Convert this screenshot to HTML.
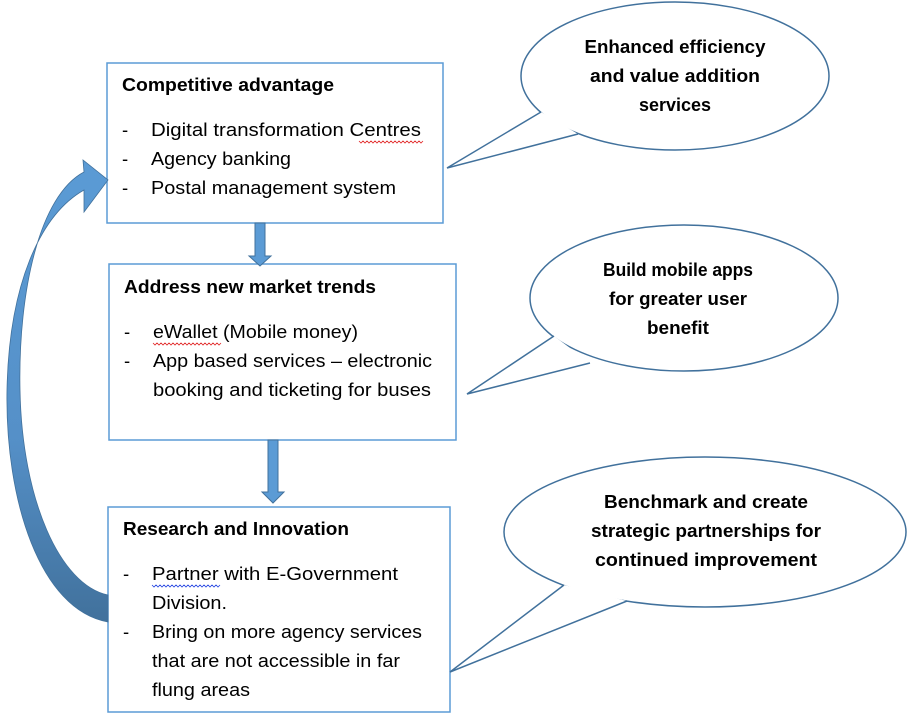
<!DOCTYPE html>
<html><head><meta charset="utf-8"><style>
html,body{margin:0;padding:0;background:#fff}
svg{display:block}
text{font-family:"Liberation Sans",Arial,sans-serif;fill:#000}
.t{font-size:18.5px}
.b{font-size:18px;font-weight:bold}
</style></head><body>
<svg width="909" height="713" viewBox="0 0 909 713" xmlns="http://www.w3.org/2000/svg">
<defs>
<linearGradient id="g" x1="0" y1="0" x2="0" y2="1">
<stop offset="0" stop-color="#5b9bd5"/><stop offset="0.6" stop-color="#5590c8"/><stop offset="1" stop-color="#41719c"/>
</linearGradient>
</defs>
<rect x="107" y="63" width="336" height="160" fill="#fff" stroke="#5b9bd5" stroke-width="1.5"/>
<rect x="109" y="264" width="347" height="176" fill="#fff" stroke="#5b9bd5" stroke-width="1.5"/>
<rect x="108" y="507" width="342" height="205" fill="#fff" stroke="#5b9bd5" stroke-width="1.5"/>

<polygon points="255,223 265,223 265,256 271,256 260,266 249,256 255,256" fill="#5b9bd5" stroke="#41719c" stroke-width="1"/>
<polygon points="268,440 278,440 278,492 284,492 273,503 262,492 268,492" fill="#5b9bd5" stroke="#41719c" stroke-width="1"/>

<path d="M108,622 C40,610 5,500 7,390 C9,285 40,215 84,190 L84,212 L108,180 L83,160 L84,172 C40,195 18,290 20,390 C22,500 60,585 108,595 Z" fill="url(#g)" stroke="#41719c" stroke-width="0.8"/>

<ellipse cx="675" cy="76" rx="154" ry="74" fill="#fff" stroke="#41719c" stroke-width="1.5"/>
<polygon points="541,112 447,168 578,134" fill="#fff"/>
<polyline points="541,112 447,168 578,134" fill="none" stroke="#41719c" stroke-width="1.5"/>
<ellipse cx="684" cy="298" rx="154" ry="73" fill="#fff" stroke="#41719c" stroke-width="1.5"/>
<polygon points="554,336 467,394 590,363" fill="#fff"/>
<polyline points="554,336 467,394 590,363" fill="none" stroke="#41719c" stroke-width="1.5"/>
<ellipse cx="705" cy="532" rx="201" ry="75" fill="#fff" stroke="#41719c" stroke-width="1.5"/>
<polygon points="564,585 450,672 627,601" fill="#fff"/>
<polyline points="564,585 450,672 627,601" fill="none" stroke="#41719c" stroke-width="1.5"/>

<g class="b" text-anchor="middle" lengthAdjust="spacingAndGlyphs">
<text x="675" y="53" textLength="181" lengthAdjust="spacingAndGlyphs">Enhanced efficiency</text>
<text x="675" y="82" textLength="170" lengthAdjust="spacingAndGlyphs">and value addition</text>
<text x="675" y="111" textLength="72" lengthAdjust="spacingAndGlyphs">services</text>
<text x="678" y="276" textLength="150" lengthAdjust="spacingAndGlyphs">Build mobile apps</text>
<text x="678" y="305" textLength="138" lengthAdjust="spacingAndGlyphs">for greater user</text>
<text x="678" y="334" textLength="62" lengthAdjust="spacingAndGlyphs">benefit</text>
<text x="706" y="508" textLength="204" lengthAdjust="spacingAndGlyphs">Benchmark and create</text>
<text x="706" y="537" textLength="230" lengthAdjust="spacingAndGlyphs">strategic partnerships for</text>
<text x="706" y="566" textLength="222" lengthAdjust="spacingAndGlyphs">continued improvement</text>
</g>

<text class="b" x="122" y="91" textLength="212" lengthAdjust="spacingAndGlyphs">Competitive advantage</text>
<g class="t">
<text x="122" y="136">-</text><text x="151" y="136" textLength="270" lengthAdjust="spacingAndGlyphs">Digital transformation Centres</text>
<text x="122" y="165">-</text><text x="151" y="165" textLength="140" lengthAdjust="spacingAndGlyphs">Agency banking</text>
<text x="122" y="194">-</text><text x="151" y="194" textLength="245" lengthAdjust="spacingAndGlyphs">Postal management system</text>
</g>
<text class="b" x="124" y="293" textLength="252" lengthAdjust="spacingAndGlyphs">Address new market trends</text>
<g class="t">
<text x="124" y="338">-</text><text x="153" y="338" textLength="205" lengthAdjust="spacingAndGlyphs">eWallet (Mobile money)</text>
<text x="124" y="367">-</text><text x="153" y="367" textLength="279" lengthAdjust="spacingAndGlyphs">App based services – electronic</text>
<text x="153" y="396" textLength="278" lengthAdjust="spacingAndGlyphs">booking and ticketing for buses</text>
</g>
<text class="b" x="123" y="535" textLength="226" lengthAdjust="spacingAndGlyphs">Research and Innovation</text>
<g class="t">
<text x="123" y="580">-</text><text x="152" y="580" textLength="246" lengthAdjust="spacingAndGlyphs">Partner with E-Government</text>
<text x="152" y="609" textLength="75" lengthAdjust="spacingAndGlyphs">Division.</text>
<text x="123" y="638">-</text><text x="152" y="638" textLength="270" lengthAdjust="spacingAndGlyphs">Bring on more agency services</text>
<text x="152" y="667" textLength="248" lengthAdjust="spacingAndGlyphs">that are not accessible in far</text>
<text x="152" y="696" textLength="98" lengthAdjust="spacingAndGlyphs">flung areas</text>
</g>
<g fill="none" stroke="#e02020" stroke-width="0.8">
<path d="M359,141 l2,2 l2,-2 l2,2 l2,-2 l2,2 l2,-2 l2,2 l2,-2 l2,2 l2,-2 l2,2 l2,-2 l2,2 l2,-2 l2,2 l2,-2 l2,2 l2,-2 l2,2 l2,-2 l2,2 l2,-2 l2,2 l2,-2 l2,2 l2,-2 l2,2 l2,-2 l2,2 l2,-2 l2,2 l2,-2"/>
<path d="M153,343 l2,2 l2,-2 l2,2 l2,-2 l2,2 l2,-2 l2,2 l2,-2 l2,2 l2,-2 l2,2 l2,-2 l2,2 l2,-2 l2,2 l2,-2 l2,2 l2,-2 l2,2 l2,-2 l2,2 l2,-2 l2,2 l2,-2 l2,2 l2,-2 l2,2 l2,-2 l2,2 l2,-2 l2,2 l2,-2 l2,2 l2,-2"/>
</g>
<path d="M152,585 l2,2 l2,-2 l2,2 l2,-2 l2,2 l2,-2 l2,2 l2,-2 l2,2 l2,-2 l2,2 l2,-2 l2,2 l2,-2 l2,2 l2,-2 l2,2 l2,-2 l2,2 l2,-2 l2,2 l2,-2 l2,2 l2,-2 l2,2 l2,-2 l2,2 l2,-2 l2,2 l2,-2 l2,2 l2,-2 l2,2 l2,-2" fill="none" stroke="#2040e0" stroke-width="0.8"/>
</svg>
</body></html>
